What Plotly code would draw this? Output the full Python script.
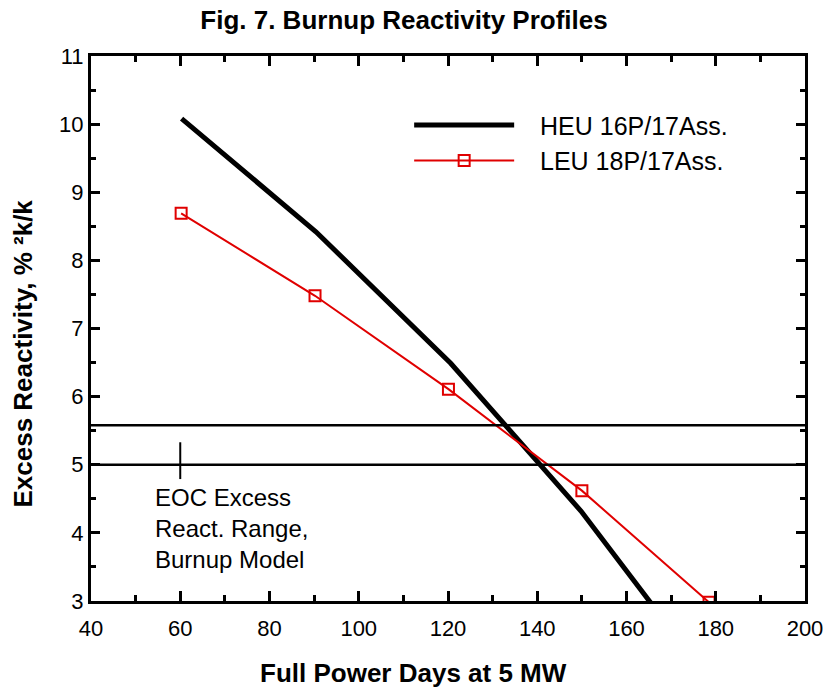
import plotly.graph_objects as go

heu_x = [60.3, 90.4, 120.6, 149.8, 165.7]
heu_y = [10.08, 8.42, 6.49, 4.32, 2.95]
leu_x = [60.2, 90.2, 120.1, 150.0, 178.5]
leu_y = [8.69, 7.48, 6.11, 4.62, 2.98]
eoc_range = [5.0, 5.58]
eoc_marker_x = 60
eoc_marker_y = [4.79, 5.33]

FONT = "Liberation Sans, Arial, sans-serif"
NB = "\u00a0" * 3

fig = go.Figure()
fig.add_trace(go.Scatter(x=heu_x, y=heu_y, mode="lines", name=NB + "HEU 16P/17Ass.",
                         line=dict(color="black", width=5)))
fig.add_trace(go.Scatter(x=leu_x, y=leu_y, mode="lines+markers", name=NB + "LEU 18P/17Ass.",
                         line=dict(color="#e00000", width=2),
                         marker=dict(symbol="square-open", size=11, color="#e00000",
                                     line=dict(width=2, color="#e00000"))))

for yv in eoc_range:
    fig.add_shape(type="line", xref="paper", yref="y", x0=0, x1=1, y0=yv, y1=yv,
                  line=dict(color="black", width=2.5))
fig.add_trace(go.Scatter(x=[eoc_marker_x, eoc_marker_x], y=eoc_marker_y, mode="lines",
                         line=dict(color="black", width=2), showlegend=False, hoverinfo="skip"))

fig.add_annotation(x=53.8, y=4.74, xref="x", yref="y", xanchor="left", yanchor="top",
                   text="EOC Excess<br>React. Range,<br>Burnup Model", showarrow=False,
                   align="left", font=dict(size=24, color="black", family=FONT))

# axis titles
fig.add_annotation(x=0.4517, y=-0.132, xref="paper", yref="paper", xanchor="center", yanchor="middle",
                   text="<b>Full Power Days at 5 MW</b>", showarrow=False,
                   font=dict(size=26, color="black", family=FONT))
fig.add_annotation(x=-0.0959, y=0.4532, xref="paper", yref="paper", xanchor="center", yanchor="middle",
                   text="<b>Excess Reactivity, % ²k/k</b>", showarrow=False, textangle=-90,
                   font=dict(size=26, color="black", family=FONT))

axis_common = dict(showline=True, linecolor="black", linewidth=3, mirror="allticks",
                   ticks="inside", tickcolor="black", showgrid=False, zeroline=False,
                   automargin=False, tickfont=dict(size=22, color="black", family=FONT))

fig.update_xaxes(range=[40, 200], tickvals=[40, 60, 80, 100, 120, 140, 160, 180, 200],
                 ticklen=10, tickwidth=2.5, ticklabelstandoff=6,
                 minor=dict(ticks="inside", ticklen=6, tickwidth=2.5, dtick=10, tickcolor="black", showgrid=False),
                 **axis_common)
fig.update_yaxes(range=[3, 11], dtick=1,
                 ticklen=9, tickwidth=2.5,
                 minor=dict(ticks="inside", ticklen=5, tickwidth=2.5, dtick=0.5, tickcolor="black", showgrid=False),
                 **axis_common)

fig.update_layout(
    width=827, height=691,
    margin=dict(l=91, r=22, t=56, b=90),
    paper_bgcolor="white", plot_bgcolor="white",
    title=dict(text="<b>Fig. 7. Burnup Reactivity Profiles</b>", x=404 / 827, xanchor="center",
               y=1 - 20 / 691, yanchor="middle", font=dict(size=26, color="black", family=FONT)),
    legend=dict(x=0.4456, y=0.915, xanchor="left", yanchor="top", bgcolor="rgba(0,0,0,0)",
                font=dict(size=25, color="black", family=FONT), itemwidth=100, tracegroupgap=0),
    showlegend=True,
)

fig.write_html("out.html", config={"displayModeBar": False},
               post_script="document.body.style.margin='0';document.body.style.overflow='hidden';")
